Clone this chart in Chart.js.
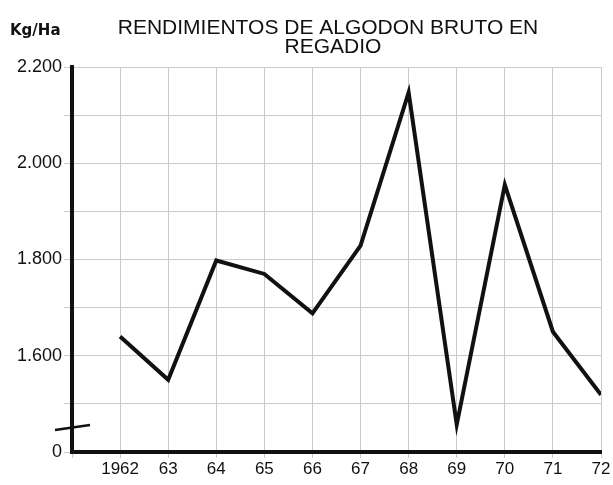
<!DOCTYPE html>
<html>
<head>
<meta charset="utf-8">
<script src="https://cdn.jsdelivr.net/npm/chart.js@4"></script>
<style>
  html, body { margin: 0; padding: 0; background: #ffffff; }
  #wrap { position: relative; width: 613px; height: 485px; }
</style>
</head>
<body>
<div id="wrap"><canvas id="myChart" width="613" height="485"></canvas></div>
<script>
// datos
const years = [1962, 1963, 1964, 1965, 1966, 1967, 1968, 1969, 1970, 1971, 1972];
const rendimiento = [1640, 1550, 1798, 1770, 1688, 1829, 2147, 1457, 1955, 1650, 1519];
const xTickLabels = ['1962', '63', '64', '65', '66', '67', '68', '69', '70', '71', '72'];
const yTickValues = [1400, 1600, 1800, 2000, 2200];
const yTickLabels = ['0', '1.600', '1.800', '2.000', '2.200'];
const titleLines = ['RENDIMIENTOS DE ALGODON BRUTO EN', 'REGADIO'];

const font = 'Liberation Sans';

// titulo, "Kg/Ha" y corte del eje
const extras = {
    id: 'extras',
    afterDraw(chart) {
        const c = chart.ctx;
        const area = chart.chartArea;
        const yScale = chart.scales.y;
        c.save();
        c.fillStyle = '#111';
        c.textBaseline = 'middle';
        c.font = '21px ' + font;
        c.textAlign = 'center';
        c.fillText(titleLines[0], 328, 28);
        c.fillText(titleLines[1], 333, 47);
        c.textAlign = 'left';
        c.font = 'bold 15px DejaVu Sans';
        c.fillText('Kg/Ha', 10, 31);
        // marca de eje cortado
        const yb = yScale.getPixelForValue(1452);
        c.strokeStyle = '#111';
        c.lineWidth = 2.5;
        c.beginPath();
        c.moveTo(area.left - 17, yb + 3);
        c.lineTo(area.left + 18, yb - 2);
        c.stroke();
        c.restore();
    }
};

const ctx = document.getElementById('myChart');
new Chart(ctx, {
    type: 'line',
    data: {
        datasets: [{
            data: years.map((y, i) => ({x: y, y: rendimiento[i]})),
            borderColor: '#111',
            borderWidth: 4,
            pointRadius: 0,
            tension: 0
        }]
    },
    options: {
        responsive: false,
        animation: false,
        layout: {padding: {left: 0, right: 12, top: 67, bottom: 0}},
        scales: {
            x: {
                type: 'linear',
                min: 1961,
                max: 1972,
                afterFit(scale) { scale.height = 33; },
                border: {display: true, color: '#111', width: 4},
                grid: {color: '#cacaca', lineWidth: 1, tickLength: 6},
                ticks: {
                    stepSize: 1,
                    autoSkip: false,
                    maxRotation: 0,
                    color: '#111',
                    font: {family: font, size: 17},
                    padding: 1,
                    callback: v => {
                        const i = years.indexOf(v);
                        return i >= 0 ? xTickLabels[i] : '';
                    }
                }
            },
            y: {
                min: 1400,
                max: 2200,
                afterFit(scale) { scale.width = 72; },
                border: {display: true, color: '#111', width: 4},
                grid: {color: '#cacaca', lineWidth: 1, tickLength: 8},
                ticks: {
                    stepSize: 100,
                    autoSkip: false,
                    color: '#111',
                    font: {family: font, size: 18},
                    padding: 2,
                    callback: v => {
                        const i = yTickValues.indexOf(v);
                        return i >= 0 ? yTickLabels[i] : '';
                    }
                }
            }
        },
        plugins: {
            legend: {display: false},
            tooltip: {enabled: false},
            title: {display: false}
        }
    },
    plugins: [extras]
});
</script>
</body>
</html>
